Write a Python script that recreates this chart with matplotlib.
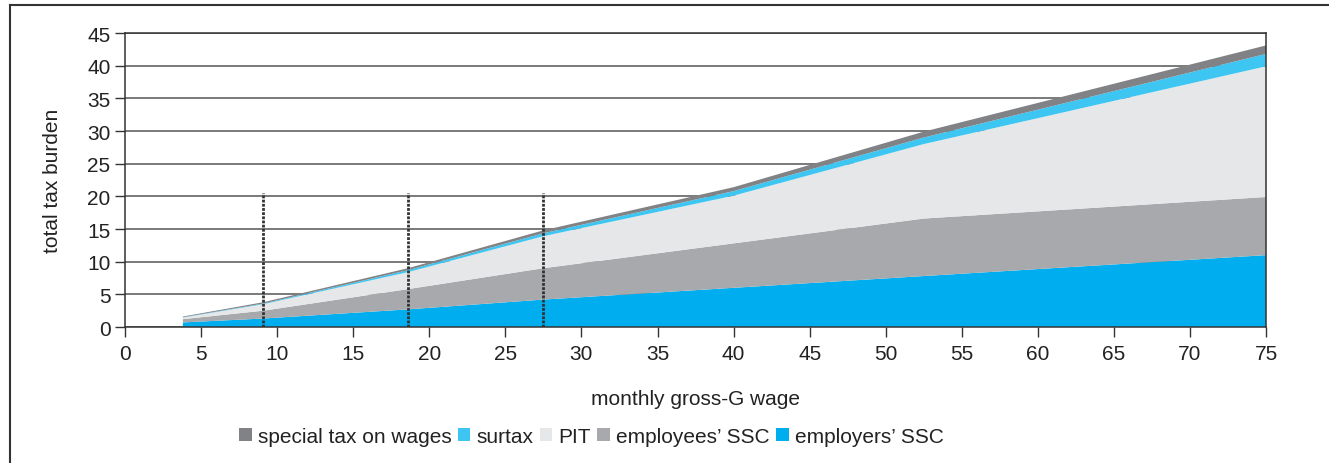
import matplotlib.pyplot as plt
from matplotlib.lines import Line2D
from matplotlib.patches import Patch

plt.rcParams['font.family'] = ['Liberation Sans', 'DejaVu Sans']

# monthly gross wage (x) and tax components (stacked, bottom to top)
wage = [3.8, 9.1, 18.6, 27.5, 40.0, 52.5, 75.0]
employers_ssc = [0.7, 1.3, 2.7, 4.2, 6.0, 7.8, 11.0]
employees_ssc = [0.5, 1.2, 3.1, 4.8, 6.8, 8.8, 8.9]
pit = [0.25, 1.0, 2.6, 4.9, 7.3, 11.4, 20.0]
surtax = [0.05, 0.1, 0.3, 0.45, 0.7, 1.0, 1.9]
special_tax = [0.1, 0.2, 0.3, 0.45, 0.6, 0.9, 1.3]

marker_wages = [9.1, 18.6, 27.5]
marker_height = 20.5

labels = ['employers\u2019 SSC', 'employees\u2019 SSC', 'PIT', 'surtax', 'special tax on wages']
colors = ['#00aeef', '#a7a9ac', '#e6e7e8', '#3ec6f2', '#808285']

fig = plt.figure(figsize=(13.29, 4.64), dpi=100)
ax = fig.add_axes([0.0941, 0.2931, 0.8585, 0.6336])

ax.stackplot(wage, employers_ssc, employees_ssc, pit, surtax, special_tax,
             colors=colors, linewidth=0, zorder=2)

for w in marker_wages:
    ax.plot([w, w], [0, marker_height], color='#333333', lw=2, ls=(0, (1, 0.5)), zorder=3)

ax.set_xlim(0, 75)
ax.set_ylim(0, 45)
ax.set_xticks(range(0, 76, 5))
ax.set_yticks(range(0, 46, 5))
ax.yaxis.grid(True, color='#555555', lw=1.1, zorder=0)
ax.set_axisbelow(True)
for s in ax.spines.values():
    s.set_color('#333333')
    s.set_linewidth(1.1)
ax.tick_params(axis='both', labelsize=15, colors='#333333', length=7, width=1,
               labelcolor='#222222')
ax.tick_params(axis='x', pad=5)
ax.set_xlabel('monthly gross-G wage', fontsize=15, color='#222222', labelpad=19)
ax.set_ylabel('total tax burden', fontsize=15, color='#222222', labelpad=18)

handles = [Patch(facecolor=c, edgecolor='none') for c in colors][::-1]
fig.legend(handles, labels[::-1], loc='center', bbox_to_anchor=(0.445, 0.057), ncol=5,
           frameon=False, fontsize=15, handlelength=0.6, handleheight=0.6,
           handletextpad=0.3, columnspacing=0.3, labelcolor='#222222')

# outer frame (left and top edges only)
fig.add_artist(Line2D([10 / 1329, 10 / 1329], [0, 1 - 6 / 464], transform=fig.transFigure,
                      color='#333333', lw=1.5))
fig.add_artist(Line2D([10 / 1329, 1], [1 - 6 / 464, 1 - 6 / 464], transform=fig.transFigure,
                      color='#333333', lw=1.5))

fig.savefig('out.png', dpi=100)
